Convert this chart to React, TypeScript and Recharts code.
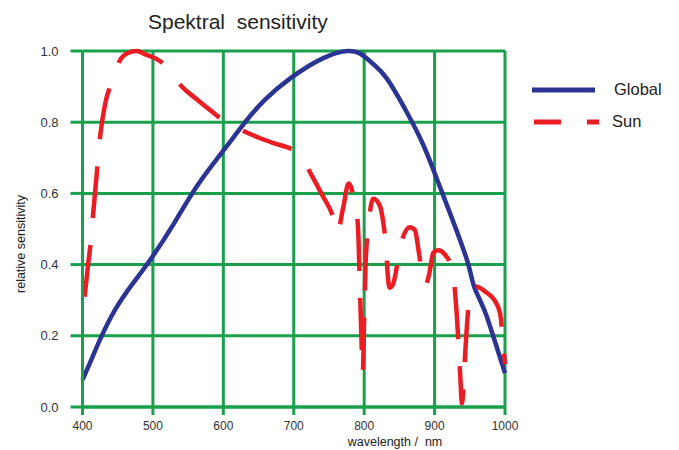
import React from 'react';
import { LineChart, Line, XAxis, YAxis, CartesianGrid } from 'recharts';

const xTicks = [400, 500, 600, 700, 800, 900, 1000];
const yTicks = [0, 0.2, 0.4, 0.6, 0.8, 1.0];

const globalWl = [400, 412, 425, 446, 470, 496, 530, 562, 600, 631, 660, 695, 723, 742, 760, 777, 794, 812, 832, 860, 884, 903, 922, 946, 955, 965, 974, 988, 1000];
const globalVal = [0.076, 0.13, 0.19, 0.272, 0.343, 0.413, 0.516, 0.619, 0.72, 0.8, 0.865, 0.923, 0.96, 0.98, 0.994, 1.0, 0.993, 0.965, 0.923, 0.83, 0.736, 0.642, 0.544, 0.413, 0.345, 0.298, 0.255, 0.17, 0.095];

const sunWl = [403, 408, 412, 415, 420, 425, 432, 439, 446, 453, 465, 477, 490, 505, 516, 528, 539, 560, 580, 598, 615, 631, 650, 670, 690, 700, 712, 723, 740, 756, 762, 770, 778, 784, 789, 792, 794, 796, 798, 800, 802, 804, 807, 813, 822, 827, 831, 834, 836, 841, 847, 853, 865, 872, 878, 884, 887, 893, 898, 905, 915, 924, 929, 932, 936, 939, 942, 945, 948, 952, 956, 964, 972, 985, 993, 997, 1000];
const sunVal = [0.31, 0.4, 0.47, 0.54, 0.65, 0.76, 0.85, 0.9, 0.94, 0.973, 0.995, 1.0, 0.99, 0.978, 0.962, 0.935, 0.905, 0.868, 0.836, 0.808, 0.79, 0.773, 0.757, 0.742, 0.73, 0.722, 0.7, 0.66, 0.597, 0.533, 0.49, 0.558, 0.628, 0.6, 0.555, 0.47, 0.33, 0.2, 0.095, 0.25, 0.4, 0.47, 0.53, 0.585, 0.567, 0.52, 0.45, 0.36, 0.335, 0.345, 0.4, 0.464, 0.505, 0.497, 0.43, 0.357, 0.343, 0.38, 0.433, 0.44, 0.427, 0.394, 0.324, 0.244, 0.104, 0.01, 0.1, 0.2, 0.28, 0.33, 0.34, 0.335, 0.324, 0.3, 0.263, 0.19, 0.12];

const globalData = globalWl.map((wl, i) => ({ wl, v: globalVal[i] }));
const sunData = sunWl.map((wl, i) => ({ wl, v: sunVal[i] }));

const GREEN = '#1aa04b';
const BLUE = '#2b3393';
const RED = '#ec1c24';
const FONT = '"Liberation Sans", Arial, Helvetica, sans-serif';

export default function App() {
  return (
    <div style={{ position: 'absolute', left: 0, top: 0, width: 679, height: 450, background: '#fff', fontFamily: FONT }}>
      <LineChart width={679} height={450} margin={{ top: 51, right: 174, bottom: 0, left: 0 }}>
        <CartesianGrid stroke={GREEN} strokeWidth={3} />
        <XAxis
          dataKey="wl"
          type="number"
          domain={[400, 1000]}
          ticks={xTicks}
          height={43}
          tickSize={8}
          tickMargin={6}
          axisLine={{ stroke: GREEN, strokeWidth: 3 }}
          tickLine={{ stroke: GREEN, strokeWidth: 3 }}
          tick={{ fill: '#333', fontSize: 12, fontFamily: FONT }}
          allowDuplicatedCategory={false}
        />
        <YAxis
          type="number"
          domain={[0, 1]}
          ticks={yTicks}
          width={82.5}
          tickSize={12}
          tickMargin={12}
          axisLine={{ stroke: GREEN, strokeWidth: 3 }}
          tickLine={{ stroke: GREEN, strokeWidth: 3 }}
          tick={{ fill: '#333', fontSize: 13, fontFamily: FONT }}
          tickFormatter={(v: number) => v.toFixed(1)}
        />
        <Line data={globalData} dataKey="v" type="natural" stroke={BLUE} strokeWidth={4.5} dot={false} isAnimationActive={false} />
        <Line data={sunData} dataKey="v" type="monotone" stroke={RED} strokeWidth={4.5} strokeDasharray="52 27" dot={false} isAnimationActive={false} />
      </LineChart>
      <svg width={679} height={450} style={{ position: 'absolute', left: 0, top: 0, pointerEvents: 'none' }}>
        <text x={148} y={29} fontSize={21} fill="#222" fontFamily={FONT} style={{ whiteSpace: 'pre' }}>{'Spektral\u00A0\u00A0sensitivity'}</text>
        <text x={22} y={244} fontSize={12.5} fill="#222" fontFamily={FONT} textAnchor="middle" dominantBaseline="middle" transform="rotate(-90 22 244)">relative sensitivity</text>
        <text x={395} y={443} fontSize={12.5} fill="#222" fontFamily={FONT} textAnchor="middle" dominantBaseline="middle">{'wavelength /\u00A0\u00A0nm'}</text>
        <line x1={532} y1={90} x2={595} y2={90} stroke={BLUE} strokeWidth={5} />
        <text x={614} y={91} fontSize={16.5} fill="#222" fontFamily={FONT} dominantBaseline="middle">Global</text>
        <line x1={534} y1={122} x2={561} y2={122} stroke={RED} strokeWidth={5} />
        <line x1={587} y1={122} x2={599} y2={122} stroke={RED} strokeWidth={5} />
        <text x={612} y={123} fontSize={16.5} fill="#222" fontFamily={FONT} dominantBaseline="middle">Sun</text>
      </svg>
    </div>
  );
}
